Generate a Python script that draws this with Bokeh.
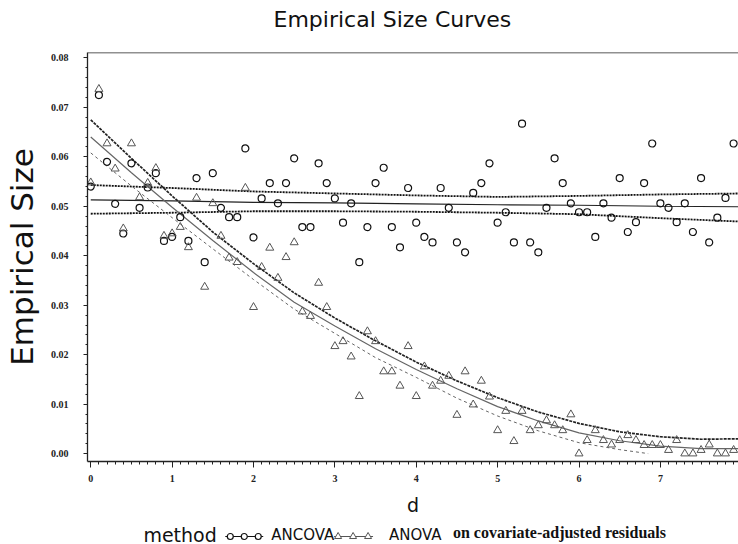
from bokeh.plotting import figure
from bokeh.models import Range1d, FixedTicker, NumeralTickFormatter, Span, Title
from bokeh.layouts import column
from bokeh.embed import file_html
from bokeh.resources import INLINE
from bokeh.core.properties import value

# ---------------- data ----------------
d = [round(i * 0.1, 1) for i in range(80)]

ancova = [0.0540, 0.0725, 0.0590, 0.0505, 0.0445, 0.0587, 0.0497, 0.0538, 0.0567, 0.0430,
          0.0438, 0.0478, 0.0430, 0.0557, 0.0387, 0.0567, 0.0497, 0.0478, 0.0478, 0.0617,
          0.0437, 0.0516, 0.0547, 0.0506, 0.0547, 0.0597, 0.0458, 0.0458, 0.0587, 0.0547,
          0.0516, 0.0467, 0.0506, 0.0387, 0.0458, 0.0547, 0.0578, 0.0458, 0.0417, 0.0537,
          0.0467, 0.0438, 0.0427, 0.0537, 0.0497, 0.0427, 0.0407, 0.0527, 0.0547, 0.0587,
          0.0467, 0.0488, 0.0427, 0.0667, 0.0427, 0.0407, 0.0497, 0.0597, 0.0547, 0.0506,
          0.0488, 0.0488, 0.0438, 0.0506, 0.0477, 0.0557, 0.0448, 0.0468, 0.0547, 0.0627,
          0.0506, 0.0497, 0.0468, 0.0506, 0.0448, 0.0557, 0.0427, 0.0477, 0.0517, 0.0627]

anova = [0.0548, 0.0737, 0.0627, 0.0576, 0.0455, 0.0627, 0.0518, 0.0547, 0.0577, 0.0440,
         0.0445, 0.0458, 0.0417, 0.0517, 0.0337, 0.0506, 0.0440, 0.0396, 0.0387, 0.0537,
         0.0296, 0.0377, 0.0416, 0.0355, 0.0397, 0.0427, 0.0287, 0.0278, 0.0345, 0.0296,
         0.0217, 0.0227, 0.0196, 0.0116, 0.0247, 0.0227, 0.0166, 0.0166, 0.0137, 0.0217,
         0.0116, 0.0176, 0.0137, 0.0147, 0.0157, 0.0078, 0.0166, 0.0099, 0.0147, 0.0115,
         0.0047, 0.0086, 0.0025, 0.0086, 0.0047, 0.0057, 0.0067, 0.0057, 0.0047, 0.0079,
         0.0000, 0.0027, 0.0047, 0.0027, 0.0018, 0.0027, 0.0037, 0.0027, 0.0017, 0.0017,
         0.0017, 0.0007, 0.0027, 0.0000, 0.0000, 0.0007, 0.0018, 0.0000, 0.0000, 0.0007]

# fitted curves with confidence limits
ancova_fit_d = [0, 1, 2, 3, 4, 5, 6, 7, 8]
ancova_upper = [0.0543, 0.0537, 0.0530, 0.0526, 0.0522, 0.0519, 0.0521, 0.0524, 0.0526]
ancova_mid = [0.0513, 0.0511, 0.0508, 0.0507, 0.0505, 0.0503, 0.0502, 0.0500, 0.0499]
ancova_lower = [0.0485, 0.0487, 0.0490, 0.0490, 0.0489, 0.0487, 0.0484, 0.0476, 0.0469]

anova_fit_d = [0.0, 0.5, 1.0, 1.5, 2.0, 2.5, 3.0, 3.5, 4.0, 4.5, 5.0, 5.5, 6.0, 6.5, 7.0, 7.5, 8.0]
anova_upper = [0.0675, 0.0597, 0.0521, 0.0448, 0.0384, 0.0325, 0.0274, 0.0228, 0.0185,
               0.0147, 0.0113, 0.0084, 0.0061, 0.0044, 0.0034, 0.0029, 0.0030]
anova_mid = [0.0640, 0.0568, 0.0498, 0.0431, 0.0366, 0.0306, 0.0258, 0.0212, 0.0170,
             0.0131, 0.0095, 0.0066, 0.0042, 0.0026, 0.0015, 0.0010, 0.0010]
anova_lower_d = [0.0, 0.5, 1.0, 1.5, 2.0, 2.5, 3.0, 3.5, 4.0, 4.5, 5.0, 5.5, 6.0, 6.5, 6.85]
anova_lower = [0.0608, 0.0541, 0.0477, 0.0414, 0.0352, 0.0292, 0.0243, 0.0194, 0.0154,
               0.0112, 0.0076, 0.0046, 0.0022, 0.0008, 0.0000]

x_ticks = [0, 1, 2, 3, 4, 5, 6, 7, 8]
y_ticks = [0.00, 0.01, 0.02, 0.03, 0.04, 0.05, 0.06, 0.07, 0.08]

# ---------------- main plot ----------------
Y_TOP = 0.0811
p = figure(width=738, height=518,
           x_range=Range1d(-0.04, 7.96), y_range=Range1d(-0.0016, Y_TOP),
           output_backend="svg", toolbar_location=None,
           min_border_left=86, min_border_right=0, min_border_top=52, min_border_bottom=57)
p.grid.visible = False
p.outline_line_color = None
p.background_fill_color = "white"
p.border_fill_color = "white"

# blank spacer between the title and the frame (keeps the title near the top edge)
p.add_layout(Title(text=" ", text_font_size="10px", standoff=4), "above")

p.title.text = "Empirical Size Curves"
p.title.align = "left"
p.title.offset = 186
p.title.standoff = 8
p.title.text_font = "DejaVu Sans"
p.title.text_font_size = "22px"
p.title.text_font_style = "normal"
p.title.text_color = "#111111"

p.add_layout(Span(location=Y_TOP, dimension="width", line_color="#222222", line_width=1.3))

p.xaxis.ticker = FixedTicker(ticks=x_ticks, minor_ticks=[i / 10 for i in range(0, 81)])
p.yaxis.ticker = FixedTicker(ticks=y_ticks, minor_ticks=[i * 0.002 for i in range(0, 41)])
p.yaxis.formatter = NumeralTickFormatter(format="0.00")

for ax in (p.xaxis, p.yaxis):
    ax.axis_line_color = "#222222"
    ax.axis_line_width = 1.3
    ax.major_tick_line_color = "#222222"
    ax.minor_tick_line_color = "#222222"
    ax.major_tick_in = 0
    ax.minor_tick_in = 0
    ax.major_label_text_font = "Liberation Serif"
    ax.major_label_text_font_style = "bold"
    ax.major_label_text_font_size = "10px"
    ax.major_label_text_color = "#222222"
    ax.axis_label_text_font = "DejaVu Sans"
    ax.axis_label_text_font_style = "normal"
    ax.axis_label_text_color = "#111111"

p.xaxis.major_tick_out = 6
p.xaxis.minor_tick_out = 3
p.xaxis.major_label_standoff = 7
p.xaxis.axis_label = "d"
p.xaxis.axis_label_text_font_size = "19px"
p.xaxis.axis_label_standoff = 9

p.yaxis.major_tick_out = 4
p.yaxis.minor_tick_out = 2
p.yaxis.major_label_standoff = 15
p.yaxis.axis_label = "Empirical Size"
p.yaxis.axis_label_text_font_size = "31px"
p.yaxis.axis_label_standoff = 8

# ANCOVA fit lines
p.line(ancova_fit_d, ancova_upper, line_color="#111111", line_width=1.8, line_dash="2 1")
p.line(ancova_fit_d, ancova_mid, line_color="#222222", line_width=1.1)
p.line(ancova_fit_d, ancova_lower, line_color="#111111", line_width=1.8, line_dash="2 1")
# ANOVA fit lines
p.line(anova_fit_d, anova_upper, line_color="#222222", line_width=1.7, line_dash="3 1")
p.line(anova_fit_d, anova_mid, line_color="#666666", line_width=1.2)
p.line(anova_lower_d, anova_lower, line_color="#666666", line_width=1, line_dash="3 3")

# points
p.scatter(d, ancova, marker="circle", size=7, fill_color=None, line_color="#111111", line_width=1.2)
p.scatter(d, anova, marker="triangle", size=8, fill_color=None, line_color="#555555", line_width=1)

# ---------------- legend strip (its frame is aligned with the main frame: x 86..738) ----------------
L = figure(width=738, height=26, x_range=Range1d(86, 738), y_range=Range1d(0, 26),
           output_backend="svg", toolbar_location=None, min_border=0,
           x_axis_location=None, y_axis_location=None)
L.grid.visible = False
L.outline_line_color = None

L.text(x=[142], y=[10], text=["method"], text_font=value("DejaVu Sans"), text_font_size="19px",
       text_baseline="middle", text_align="left", text_color="#111111")
L.line([224, 262], [8, 8], line_color="#111111", line_width=1.2)
L.scatter([229, 243, 257], [8, 8, 8], marker="circle", size=6, fill_color="white",
          line_color="#111111", line_width=1.2)
L.text(x=[270], y=[10], text=["ANCOVA"], text_font=value("DejaVu Sans"), text_font_size="15px",
       text_baseline="middle", text_align="left", text_color="#111111")
L.line([333, 372], [8, 8], line_color="#555555", line_width=1)
L.scatter([337, 352, 367], [8, 8, 8], marker="triangle", size=7, fill_color="white",
          line_color="#555555", line_width=1)
L.text(x=[388], y=[10], text=["ANOVA"], text_font=value("DejaVu Sans"), text_font_size="15px",
       text_baseline="middle", text_align="left", text_color="#111111")
L.text(x=[452], y=[12], text=["on covariate-adjusted residuals"], text_font=value("Liberation Serif"),
       text_font_size="16px", text_font_style="bold", text_baseline="middle", text_align="left",
       text_color="#111111")

layout = column(p, L, spacing=0)
open("out.html", "w").write(file_html(layout, INLINE))
